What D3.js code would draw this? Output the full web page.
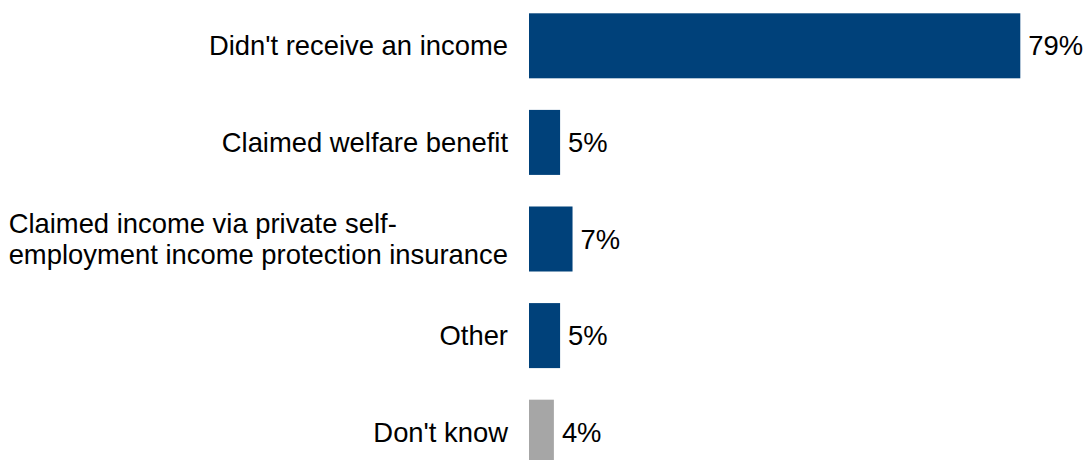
<!DOCTYPE html>
<html>
<head>
<meta charset="utf-8">
<script src="https://cdn.jsdelivr.net/npm/d3@7"></script>
<style>
  html, body { margin: 0; padding: 0; background: #fff; }
  svg { display: block; }
</style>
</head>
<body>
<div id="chart"></div>
<script>
const categories = [
  ["Didn't receive an income"],
  ["Claimed welfare benefit"],
  ["Claimed income via private self-", "employment income protection insurance"],
  ["Other"],
  ["Don't know"]
];
const values = [79, 5, 7, 5, 4];
const barColors = ["#00417a", "#00417a", "#00417a", "#00417a", "#a6a6a6"];

const width = 1087, height = 460;
const fontSize = 27.4;
const svg = d3.select("#chart").append("svg")
  .attr("width", width)
  .attr("height", height)
  .style("font-family", "'Liberation Sans', Arial, sans-serif");

const idx = d3.range(categories.length);

const y = d3.scaleBand()
  .domain(idx)
  .range([13.3, 464.7])
  .paddingInner(0.327)
  .paddingOuter(0);

const x = d3.scaleLinear()
  .domain([0, 79])
  .range([529, 1020.3]);

// bars
svg.selectAll("rect.bar")
  .data(idx)
  .enter()
  .append("rect")
  .attr("class", "bar")
  .attr("x", x(0))
  .attr("y", i => y(i))
  .attr("width", i => x(values[i]) - x(0))
  .attr("height", y.bandwidth())
  .attr("fill", i => barColors[i]);

// value labels
svg.selectAll("text.val")
  .data(idx)
  .enter()
  .append("text")
  .attr("class", "val")
  .attr("x", i => x(values[i]) + 8)
  .attr("y", i => y(i) + y.bandwidth() / 2)
  .attr("dy", "0.35em")
  .attr("font-size", fontSize)
  .attr("fill", "#000")
  .text(i => values[i] + "%");

// category labels: block right-aligned at 508, lines left-aligned inside
const lineH = 31;
const labelRight = 508;
const labels = svg.selectAll("text.cat")
  .data(idx)
  .enter()
  .append("text")
  .attr("class", "cat")
  .attr("font-size", fontSize)
  .attr("fill", "#000");

labels.each(function(i) {
  const lines = categories[i];
  const cy = y(i) + y.bandwidth() / 2;
  const first = cy - (lines.length - 1) * lineH / 2;
  const tspans = lines.map((ln, k) =>
    d3.select(this).append("tspan")
      .attr("y", first + k * lineH)
      .attr("dy", "0.35em")
      .text(ln));
  const maxW = d3.max(tspans, t => t.node().getComputedTextLength());
  tspans.forEach(t => t.attr("x", labelRight - maxW));
});
</script>
</body>
</html>
